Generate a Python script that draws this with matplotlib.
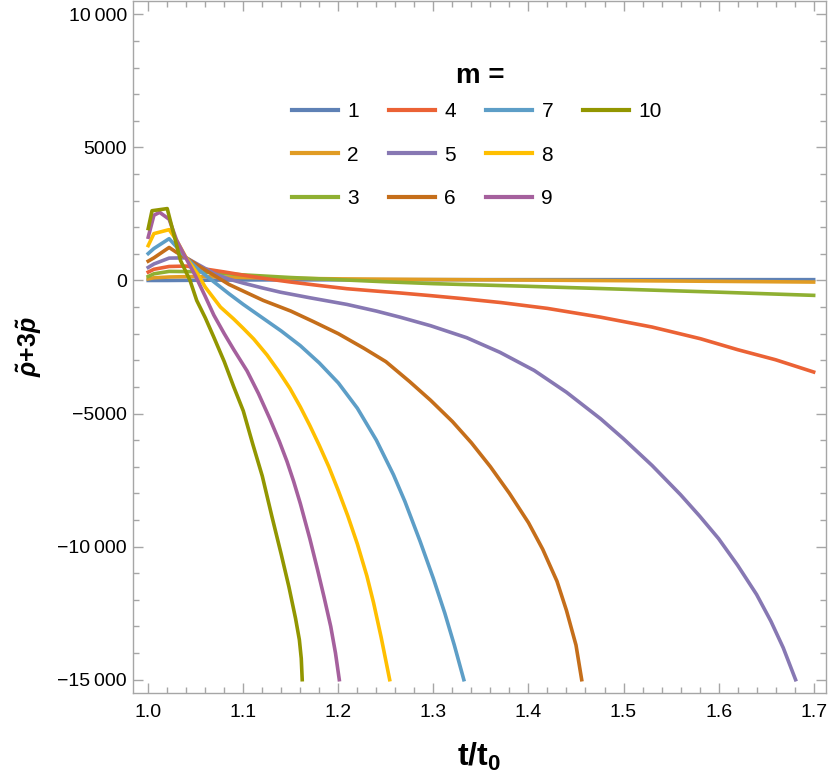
import matplotlib
matplotlib.use("Agg")
import matplotlib.pyplot as plt
from matplotlib.lines import Line2D
from matplotlib.ticker import FixedLocator, MultipleLocator

plt.rcParams['font.family'] = ['Liberation Sans', 'DejaVu Sans']
plt.rcParams['mathtext.fontset'] = 'custom'
plt.rcParams['mathtext.rm'] = 'Liberation Sans:bold'
plt.rcParams['mathtext.it'] = 'Liberation Sans:italic:bold'
plt.rcParams['mathtext.bf'] = 'Liberation Sans:bold'

# values: t/t0 and rho+3p for each m
t1 = [1.0, 1.02, 1.1, 1.3, 1.5, 1.7]
v1 = [0, 0, 20, 30, 30, 30]

t2 = [1.0, 1.006, 1.022, 1.05, 1.08, 1.1, 1.15, 1.2, 1.3, 1.4, 1.55, 1.7]
v2 = [60, 100, 130, 150, 130, 110, 80, 60, 35, 15, -20, -60]

t3 = [1.0, 1.006, 1.022, 1.05, 1.08, 1.1, 1.15, 1.2, 1.25, 1.3, 1.4, 1.5, 1.6, 1.7]
v3 = [150, 250, 340, 330, 260, 210, 110, 30, -50, -120, -220, -330, -440, -560]

t4 = [1.0, 1.006, 1.022, 1.04, 1.06, 1.08, 1.1, 1.125, 1.15, 1.18, 1.209, 1.24, 1.265,
      1.297, 1.33, 1.371, 1.42, 1.476, 1.53, 1.581, 1.62, 1.66, 1.7]
v4 = [315, 420, 525, 540, 430, 320, 200, 60, -60, -190, -310, -400, -470,
      -570, -680, -830, -1050, -1380, -1750, -2190, -2600, -2980, -3440]

t5 = [1.0, 1.006, 1.022, 1.04, 1.055, 1.07, 1.085, 1.1, 1.12, 1.139, 1.17, 1.209, 1.24,
      1.265, 1.297, 1.335, 1.37, 1.406, 1.44, 1.476, 1.5, 1.53, 1.56, 1.58, 1.6, 1.62,
      1.64, 1.655, 1.668, 1.681]
v5 = [490, 620, 840, 850, 550, 250, 50, -100, -280, -440, -650, -900, -1150,
      -1380, -1700, -2150, -2700, -3380, -4200, -5200, -5950, -6950, -8050, -8850, -9700, -10700,
      -11800, -12800, -13800, -15000]

t6 = [1.0, 1.006, 1.022, 1.03, 1.04, 1.055, 1.069, 1.085, 1.1, 1.121, 1.15, 1.174, 1.2,
      1.227, 1.25, 1.275, 1.297, 1.32, 1.34, 1.36, 1.38, 1.4, 1.415, 1.43, 1.44, 1.45, 1.456]
v6 = [725, 850, 1240, 1050, 850, 500, 200, -150, -400, -750, -1150, -1550, -2000,
      -2550, -3050, -3800, -4500, -5300, -6100, -7000, -8000, -9100, -10100, -11300, -12400,
      -13700, -15000]

t7 = [1.0, 1.006, 1.022, 1.03, 1.04, 1.05, 1.06, 1.069, 1.085, 1.1, 1.12, 1.14, 1.16,
      1.18, 1.2, 1.22, 1.24, 1.258, 1.27, 1.286, 1.3, 1.312, 1.322, 1.332]
v7 = [1010, 1200, 1570, 1250, 850, 500, 200, -50, -500, -900, -1400, -1900, -2450,
      -3100, -3850, -4800, -6000, -7300, -8300, -9800, -11200, -12500, -13700, -15000]

t8 = [1.0, 1.006, 1.022, 1.03, 1.04, 1.051, 1.06, 1.076, 1.09, 1.1, 1.111, 1.125, 1.137,
      1.149, 1.16, 1.17, 1.18, 1.19, 1.2, 1.21, 1.22, 1.23, 1.237, 1.245, 1.254]
v8 = [1310, 1760, 1910, 1500, 850, 300, -250, -1000, -1450, -1800, -2200, -2800, -3400,
      -4050, -4750, -5450, -6200, -7000, -7900, -8850, -9900, -11100, -12100, -13400, -15000]

t9 = [1.0, 1.006, 1.012, 1.022, 1.03, 1.041, 1.05, 1.06, 1.069, 1.08, 1.09, 1.104, 1.116,
      1.128, 1.138, 1.146, 1.153, 1.16, 1.17, 1.178, 1.185, 1.192, 1.197, 1.201]
v9 = [1625, 2450, 2560, 2300, 1500, 750, 150, -600, -1300, -2000, -2600, -3400, -4250,
      -5200, -6050, -6800, -7550, -8380, -9700, -10850, -11900, -13000, -14000, -15000]

t10 = [1.0, 1.004, 1.02, 1.034, 1.044, 1.051, 1.06, 1.069, 1.08, 1.09, 1.1, 1.11, 1.12,
       1.13, 1.14, 1.148, 1.155, 1.159, 1.161, 1.162]
v10 = [1950, 2620, 2700, 750, 0, -750, -1400, -2130, -3050, -4000, -4900, -6150, -7350,
       -8850, -10300, -11510, -12700, -13500, -14200, -15000]

series_t = [t1, t2, t3, t4, t5, t6, t7, t8, t9, t10]
series_v = [v1, v2, v3, v4, v5, v6, v7, v8, v9, v10]
labels = ['1', '2', '3', '4', '5', '6', '7', '8', '9', '10']
colors = ['#5E81B5', '#E19C24', '#8FB032', '#EB6235', '#8778B3',
          '#C56E1A', '#5D9EC7', '#FFBF00', '#A5609D', '#929600']

yticks = [10000, 5000, 0, -5000, -10000, -15000]
ytick_labels = ['10\u2009000', '5000', '0', '\u22125000', '\u221210\u2009000', '\u221215\u2009000']
xticks = [1.0, 1.1, 1.2, 1.3, 1.4, 1.5, 1.6, 1.7]

fig = plt.figure(figsize=(8.3, 7.79), dpi=100)
ax = fig.add_axes([133 / 830, 1 - 693 / 779, 693 / 830, 692 / 779])

handles = []
for t, v, lab, c in zip(series_t, series_v, labels, colors):
    h, = ax.plot(t, v, color=c, lw=2.6, label=lab)
    handles.append(h)

ax.set_xlim(0.984, 1.713)
ax.set_ylim(-15500, 10500)

ax.xaxis.set_major_locator(FixedLocator(xticks))
ax.xaxis.set_minor_locator(MultipleLocator(0.02))
ax.set_xticklabels([f'{x:.1f}' for x in xticks])
ax.yaxis.set_major_locator(FixedLocator(yticks))
ax.yaxis.set_minor_locator(MultipleLocator(1000))
ax.set_yticklabels(ytick_labels)

frame = '#a6a6a6'
for s in ax.spines.values():
    s.set_color(frame)
    s.set_linewidth(1.0)
ax.tick_params(which='both', direction='in', top=True, right=True, color=frame,
               labelsize=14, labelcolor='black', width=1.0)
ax.tick_params(which='major', length=7)
ax.tick_params(axis='y', which='major', pad=4.5)
ax.tick_params(axis='x', which='major', pad=8)
ax.tick_params(which='minor', length=4)

ax.set_xlabel(r't/t$_\mathbf{0}$', fontsize=23, fontweight='bold', labelpad=14)
ax.set_ylabel(r'$\tilde{\rho}$+3$\tilde{p}$', fontsize=18, fontweight='bold')
ax.yaxis.set_label_coords(-0.128, 0.5)

fig.text(480 / 830, 1 - 76 / 779, 'm =', fontsize=20, fontweight='bold',
         ha='center', va='center')

blank = Line2D([], [], color='none')
leg = fig.legend(handles + [blank, blank], labels + ['', ''], ncol=4, loc='center',
                 bbox_to_anchor=(477 / 830, 1 - 155 / 779), frameon=False,
                 fontsize=15, handlelength=2.2, handletextpad=0.45,
                 labelspacing=1.18, columnspacing=1.45, borderpad=0)
for line in leg.get_lines():
    line.set_linewidth(3)

fig.savefig('out.png', dpi=100)
